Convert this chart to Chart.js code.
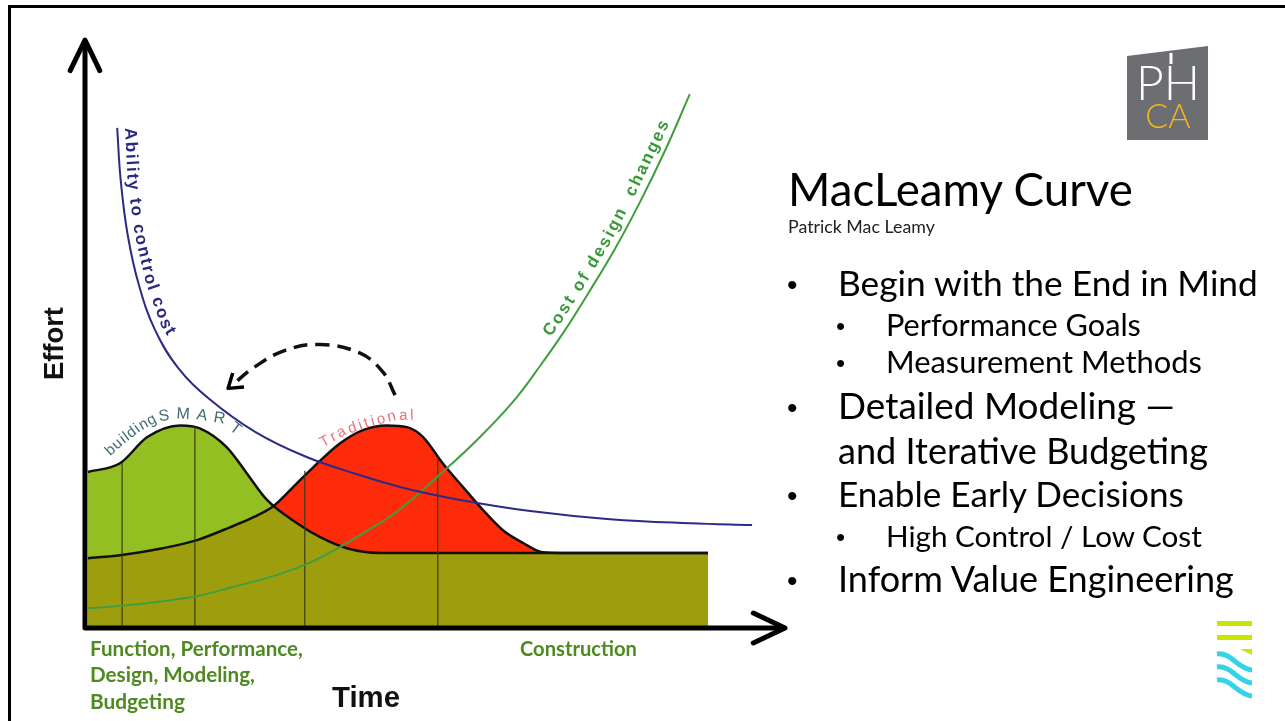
<!DOCTYPE html>
<html>
<head>
<meta charset="utf-8">
<title>MacLeamy Curve</title>
<script src="https://cdn.jsdelivr.net/npm/chart.js@4.4.1/dist/chart.umd.min.js"></script>
<style>
  html, body { margin: 0; padding: 0; background: #fff; }
  #slide { position: relative; width: 1285px; height: 721px; overflow: hidden; background: #fff; }
  #chartBox { position: absolute; left: 0; top: 0; width: 800px; height: 721px; }
  .txt { position: absolute; white-space: nowrap; line-height: 1.2; }
  .frame { position: absolute; background: #000; }
</style>
</head>
<body>
<div id="slide">
  <div id="chartBox"><canvas id="myChart" width="800" height="721"></canvas></div>
  <svg width="1285" height="721" style="position:absolute;left:0;top:0">
    <!-- PHCA logo -->
    <polygon points="1127,56 1208,46 1208,140 1127,140" fill="#6d6e71"/>
    <line x1="1171" y1="53" x2="1171" y2="64" stroke="#fff" stroke-width="3"/>
    <text x="1168" y="100" text-anchor="middle" font-family="Lato, 'Open Sans', sans-serif" font-weight="300" font-size="48" fill="#fff">PH</text>
    <text x="1168" y="128" text-anchor="middle" font-family="Lato, 'Open Sans', sans-serif" font-weight="300" font-size="34" fill="#f6b51e">CA</text>
    <!-- corner icon -->
    <rect x="1217" y="621" width="35" height="5" fill="#c9e600"/>
    <rect x="1217" y="635" width="35" height="5" fill="#c9e600"/>
    <polygon points="1240,649 1252,649 1252,655" fill="#c9e600"/>
    <path d="M1217,654 C1231,652 1238,669 1252,670" stroke="#35d3e6" stroke-width="5" fill="none"/>
    <path d="M1217,667 C1231,665 1238,682 1252,683" stroke="#35d3e6" stroke-width="5" fill="none"/>
    <path d="M1217,680 C1231,678 1238,695 1252,696" stroke="#35d3e6" stroke-width="5" fill="none"/>
  </svg>
  <div class="frame" style="left:8px;top:5px;width:1277px;height:3px"></div>
  <div class="frame" style="left:8px;top:5px;width:3px;height:716px"></div>
</div>
<script>
// time runs 0..100 along the x axis, effort 0..101 up the y axis

// "Ability to control cost"
var controlX = [4.6, 5.1, 6.1, 7.7, 10.0, 13.3, 17.9, 24.3, 31.4, 38.6, 45.7, 53.6, 63.6, 75.0, 86.4, 95.3];
var controlY = [85.9, 76.9, 67.5, 58.9, 51.2, 44.7, 39.2, 33.7, 29.5, 26.5, 24.0, 22.0, 20.1, 18.7, 18.0, 17.7];

// "Cost of design changes"
var costX = [0.4, 5.0, 11.1, 16.0, 20.7, 27.9, 32.6, 36.4, 42.1, 45.0, 51.1, 56.0, 61.1, 65.0, 68.6, 72.1, 75.7, 79.3, 82.9, 86.4];
var costY = [3.4, 3.8, 4.6, 5.5, 6.9, 9.3, 11.5, 13.9, 18.0, 20.4, 26.8, 32.3, 38.8, 45.0, 51.2, 57.9, 65.1, 73.2, 82.1, 91.7];

// buildingSMART effort curve
var smartX = [0.4, 5.0, 8.9, 13.6, 16.4, 20.3, 23.1, 26.0, 30.3, 33.6, 37.4, 42.1, 89.0];
var smartY = [26.8, 28.3, 32.8, 34.8, 34.3, 31.0, 26.6, 22.0, 18.0, 15.6, 13.7, 12.9, 12.9];

// Traditional effort curve
var tradX = [0.4, 5.0, 11.1, 16.0, 20.7, 24.0, 26.9, 30.3, 32.6, 36.4, 39.7, 43.1, 46.0, 48.3, 51.1, 54.0, 56.9, 59.7, 62.6, 65.4, 67.9, 89.0];
var tradY = [12.0, 12.5, 13.7, 15.1, 17.3, 19.0, 20.9, 24.9, 27.6, 31.7, 34.0, 34.8, 34.5, 32.8, 28.3, 24.2, 20.2, 16.8, 14.6, 13.0, 12.9, 12.9];

// phase divider lines
var dividerX = [5.3, 15.7, 31.4, 50.4];
var dividerTop = [28.4, 34.6, 27.0, 29.4];

// dashed "shift left" arrow
var shiftX = [44.3, 42.6, 39.3, 33.6, 28.6, 24.3, 21.0];
var shiftY = [40.0, 43.9, 47.2, 48.7, 47.7, 44.9, 41.7];

// label paths (baselines), same units
var controlLabelX = [5.7, 6.1, 7.1, 8.7, 10.9, 14.0, 16.4];
var controlLabelY = [85.9, 76.9, 67.5, 59.3, 51.9, 45.7, 42.6];
var costLabelX = [64.1, 67.7, 71.3, 74.9, 78.4, 82.0, 85.6];
var costLabelY = [45.7, 51.9, 58.6, 65.8, 73.9, 82.8, 92.4];
var smartLabelX = [3.6, 5.6, 7.9, 10.4, 13.6, 16.4, 19.3, 21.9, 23.3];
var smartLabelY = [29.5, 31.7, 33.8, 35.5, 36.0, 35.8, 35.2, 32.9, 31.2];
var tradLabelX = [34.0, 37.1, 40.7, 44.3, 47.1, 49.0];
var tradLabelY = [31.0, 33.1, 34.6, 35.7, 35.8, 35.3];

function pts(xs, ys) {
  return xs.map(function (v, i) { return { x: v, y: ys[i] }; });
}

var dividerData = [];
dividerX.forEach(function (v, i) {
  dividerData.push({ x: v, y: 0 }, { x: v, y: dividerTop[i] }, { x: v, y: null });
});

// letters one by one along a polyline
function textOnPath(ctx, p, str, font, color, spacing, start) {
  ctx.font = font;
  ctx.fillStyle = color;
  ctx.textBaseline = 'alphabetic';
  var cum = [0];
  for (var i = 1; i < p.length; i++) {
    cum.push(cum[i - 1] + Math.hypot(p[i][0] - p[i - 1][0], p[i][1] - p[i - 1][1]));
  }
  var d = start || 0;
  for (var c = 0; c < str.length; c++) {
    var ch = str[c];
    var w = ctx.measureText(ch).width;
    var mid = d + w / 2;
    var k = 1;
    while (k < p.length - 1 && cum[k] < mid) k++;
    var t = (mid - cum[k - 1]) / (cum[k] - cum[k - 1]);
    var x = p[k - 1][0] + t * (p[k][0] - p[k - 1][0]);
    var y = p[k - 1][1] + t * (p[k][1] - p[k - 1][1]);
    var a = Math.atan2(p[k][1] - p[k - 1][1], p[k][0] - p[k - 1][0]);
    ctx.save();
    ctx.translate(x, y);
    ctx.rotate(a);
    ctx.fillText(ch, -w / 2, 0);
    ctx.restore();
    d += w + spacing;
  }
  return d;
}

function arrowHead(ctx, tipX, tipY, ang, len, spread) {
  ctx.beginPath();
  ctx.moveTo(tipX - len * Math.cos(ang - spread), tipY - len * Math.sin(ang - spread));
  ctx.lineTo(tipX, tipY);
  ctx.lineTo(tipX - len * Math.cos(ang + spread), tipY - len * Math.sin(ang + spread));
  ctx.stroke();
}

var decor = {
  id: 'decor',
  afterDatasetsDraw: function (chart) {
    var ctx = chart.ctx, sx = chart.scales.x, sy = chart.scales.y;
    function toPx(xs, ys) {
      return xs.map(function (v, i) { return [sx.getPixelForValue(v), sy.getPixelForValue(ys[i])]; });
    }
    var x0 = sx.getPixelForValue(0), y0 = sy.getPixelForValue(0);
    var xEnd = sx.getPixelForValue(sx.max), yEnd = sy.getPixelForValue(sy.max);
    ctx.save();
    ctx.strokeStyle = '#000';
    ctx.lineWidth = 5;
    ctx.lineCap = 'round';
    ctx.lineJoin = 'round';
    ctx.beginPath();
    ctx.moveTo(x0, y0);
    ctx.lineTo(x0, yEnd + 2);
    ctx.moveTo(x0, y0);
    ctx.lineTo(xEnd - 2, y0);
    ctx.stroke();
    arrowHead(ctx, x0, yEnd, -Math.PI / 2, 34, 0.45);
    arrowHead(ctx, xEnd, y0, 0, 35, 0.44);

    // head of the dashed arrow
    var n = shiftX.length;
    var a = [sx.getPixelForValue(shiftX[n - 2]), sy.getPixelForValue(shiftY[n - 2])];
    var b = [sx.getPixelForValue(shiftX[n - 1]), sy.getPixelForValue(shiftY[n - 1])];
    var ang = Math.atan2(b[1] - a[1], b[0] - a[0]);
    ctx.lineWidth = 3.5;
    ctx.lineCap = 'butt';
    arrowHead(ctx, b[0] + 5 * Math.cos(ang), b[1] + 5 * Math.sin(ang), ang, 16, 0.6);

    var arial = '"Liberation Sans", Arial, sans-serif';
    textOnPath(ctx, toPx(controlLabelX, controlLabelY), 'Ability to control cost', 'bold 17px ' + arial, '#2b2a7a', 1.8);
    textOnPath(ctx, toPx(costLabelX, costLabelY), 'Cost of design  changes', 'bold 17px ' + arial, '#3a9a3a', 2.2, 30);
    var sp = toPx(smartLabelX, smartLabelY);
    var d = textOnPath(ctx, sp, 'building', '15px ' + arial, '#3f6b6e', 1);
    textOnPath(ctx, sp, 'SMART', '16px ' + arial, '#3f6b6e', 6.5, d + 1);
    textOnPath(ctx, toPx(tradLabelX, tradLabelY), 'Traditional', '15px ' + arial, '#e8707c', 2.6);
    ctx.restore();
  }
};

var ctx = document.getElementById('myChart').getContext('2d');
var myChart = new Chart(ctx, {
  type: 'line',
  data: {
    datasets: [
      { label: 'Ability to control cost', data: pts(controlX, controlY), borderColor: '#2b2a85', borderWidth: 2,
        pointRadius: 0, tension: 0.4, fill: false },
      { label: 'Cost of design changes', data: pts(costX, costY), borderColor: '#3f9f3f', borderWidth: 2,
        pointRadius: 0, tension: 0.4, fill: false },
      { label: 'shift', data: pts(shiftX, shiftY), borderColor: '#111', borderWidth: 3.5, borderDash: [14, 8],
        pointRadius: 0, tension: 0.4, fill: false },
      { label: 'phases', data: dividerData, borderColor: '#3b3b20', borderWidth: 1.2,
        pointRadius: 0, tension: 0, fill: false, spanGaps: false },
      { label: 'Traditional', data: pts(tradX, tradY), borderColor: '#111', borderWidth: 2.5,
        pointRadius: 0, cubicInterpolationMode: 'monotone',
        fill: { target: 5, above: '#fe2b0b', below: '#94bf23' } },
      { label: 'buildingSMART', data: pts(smartX, smartY), borderColor: '#111', borderWidth: 2.5,
        pointRadius: 0, cubicInterpolationMode: 'monotone',
        fill: { target: 'origin', above: '#9e9d0d' } }
    ]
  },
  options: {
    responsive: false,
    animation: false,
    devicePixelRatio: 1,
    layout: { padding: { left: 85, right: 15, top: 40, bottom: 93 } },
    scales: {
      x: { type: 'linear', min: 0, max: 100, display: false },
      y: { type: 'linear', min: 0, max: 101, display: false }
    },
    plugins: {
      legend: { display: false },
      tooltip: { enabled: false },
      filler: { drawTime: 'beforeDatasetsDraw' }
    }
  },
  plugins: [decor]
});

// slide text: text, left, baseline, width to fit (0 = keep size), size, weight, colour, family
var SLIDE = 'Lato, "Open Sans", sans-serif';
var ARIAL = '"Liberation Sans", Arial, sans-serif';
var slideText = [
  ['MacLeamy Curve', 788, 206, 345, 42, 400, '#000', SLIDE],
  ['Patrick Mac Leamy', 788, 233, 147, 15, 400, '#222', SLIDE],
  ['\u2022', 787, 295, 0, 30, 400, '#000', ARIAL],
  ['Begin with the End in Mind', 838, 296, 420, 31, 400, '#000', SLIDE],
  ['\u2022', 836, 335, 0, 26, 400, '#000', ARIAL],
  ['Performance Goals', 886, 336, 255, 27, 400, '#000', SLIDE],
  ['\u2022', 836, 372, 0, 26, 400, '#000', ARIAL],
  ['Measurement Methods', 886, 373, 316, 27, 400, '#000', SLIDE],
  ['\u2022', 787, 418, 0, 30, 400, '#000', ARIAL],
  ['Detailed Modeling \u2014', 838, 419, 337, 31, 400, '#000', SLIDE],
  ['and Iterative Budgeting', 838, 464, 370, 31, 400, '#000', SLIDE],
  ['\u2022', 787, 506, 0, 30, 400, '#000', ARIAL],
  ['Enable Early Decisions', 838, 507, 346, 31, 400, '#000', SLIDE],
  ['\u2022', 836, 546, 0, 26, 400, '#000', ARIAL],
  ['High Control / Low Cost', 886, 547, 316, 27, 400, '#000', SLIDE],
  ['\u2022', 787, 591, 0, 30, 400, '#000', ARIAL],
  ['Inform Value Engineering', 838, 592, 396, 31, 400, '#000', SLIDE],
  ['Function, Performance,', 90, 656, 213, 18, 700, '#4e8a1f', SLIDE],
  ['Design, Modeling,', 90, 682, 165, 18, 700, '#4e8a1f', SLIDE],
  ['Budgeting', 90, 709, 95, 18, 700, '#4e8a1f', SLIDE],
  ['Construction', 520, 656, 117, 18, 700, '#4e8a1f', SLIDE],
  ['Time', 332, 707, 68, 30, 700, '#111', ARIAL]
];

var slide = document.getElementById('slide');

function placeText(str, x, base, width, size, weight, color, family, rotate) {
  var d = document.createElement('div');
  d.className = 'txt';
  d.textContent = str;
  d.style.fontFamily = family;
  d.style.fontWeight = weight;
  d.style.color = color;
  d.style.fontSize = size + 'px';
  slide.appendChild(d);
  if (width) {
    size = size * width / d.getBoundingClientRect().width;
    d.style.fontSize = size + 'px';
  }
  var m = document.createElement('span');
  m.style.display = 'inline-block';
  d.appendChild(m);
  var off = m.offsetTop;
  d.style.left = x + 'px';
  d.style.top = (base - off) + 'px';
  if (rotate) {
    d.style.transformOrigin = '0px ' + off + 'px';
    d.style.transform = 'rotate(' + rotate + 'deg)';
  }
}

slideText.forEach(function (r) { placeText.apply(null, r); });
// y axis title, reads upwards
placeText('Effort', 63, 380, 73, 30, 700, '#111', ARIAL, -90);
</script>
</body>
</html>
